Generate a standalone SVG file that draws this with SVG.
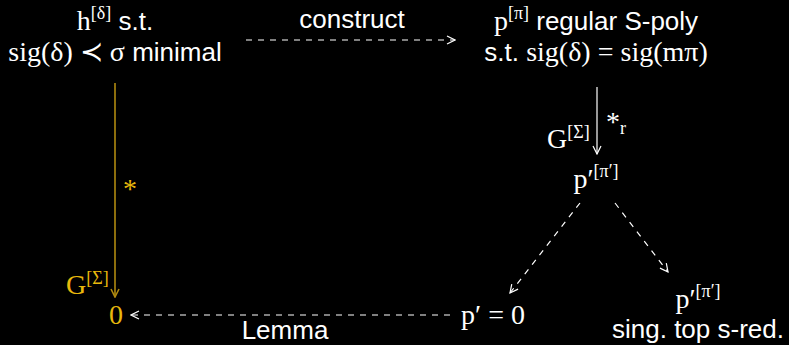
<svg xmlns="http://www.w3.org/2000/svg" width="789" height="345" viewBox="0 0 789 345">
<defs>
<style>
.s{font-family:"Liberation Sans",Arial,sans-serif;font-size:26px;fill:#fff}
.m{font-family:"Liberation Serif","DejaVu Serif",serif;font-size:28px;fill:#fff}
.y{fill:#e8b80c}
.sup{font-size:18px}
.ln{stroke:#fff;stroke-width:1.2;fill:none}
.dash{stroke-dasharray:6 6}
.yl{stroke:#b08a10;stroke-width:1.6;fill:none}
</style>
<marker id="ah" viewBox="0 0 10 10" refX="9" refY="5" markerWidth="10" markerHeight="10" markerUnits="userSpaceOnUse" orient="auto"><path d="M1,1 L9,5 L1,9" fill="none" stroke="#fff" stroke-width="1.2"/></marker>
<marker id="ahy" viewBox="0 0 10 10" refX="9" refY="5" markerWidth="10" markerHeight="10" markerUnits="userSpaceOnUse" orient="auto"><path d="M1,1 L9,5 L1,9" fill="none" stroke="#b08a10" stroke-width="1.6"/></marker>
</defs>
<rect width="789" height="345" fill="#000"/>
<g id="connectors">
<line class="ln dash" x1="246" y1="40" x2="455" y2="40" marker-end="url(#ah)"/>
<line class="ln" x1="597" y1="87" x2="597" y2="154" marker-end="url(#ah)"/>
<line class="yl" x1="115" y1="83" x2="115" y2="297" marker-end="url(#ahy)"/>
<line class="ln dash" x1="450" y1="315" x2="131" y2="315" marker-end="url(#ah)"/>
<line class="ln dash" x1="580" y1="203" x2="510" y2="293" marker-end="url(#ah)"/>
<line class="ln dash" x1="615" y1="203" x2="668" y2="272" marker-end="url(#ah)"/>
<text class="s" x="352" y="28" text-anchor="middle">construct</text>
<text class="m" x="606" y="131">*<tspan class="sup" dy="3">r</tspan></text>
<text class="m" x="547" y="148">G<tspan class="sup" dy="-10">[Σ]</tspan></text>
<text class="m y" x="123" y="198">*</text>
<text class="m y" x="66" y="294">G<tspan class="sup" dy="-10">[Σ]</tspan></text>
<text class="s" x="285" y="339" text-anchor="middle">Lemma</text>
</g>
<g id="node-h">
<text x="115" y="30" text-anchor="middle"><tspan class="m">h</tspan><tspan class="m sup" dy="-11">[δ]</tspan><tspan class="s" dy="11"> s.t.</tspan></text>
<text x="115" y="61" text-anchor="middle"><tspan class="m">sig(δ) ≺ σ</tspan><tspan class="s"> minimal</tspan></text>
</g>
<g id="node-p">
<text x="596" y="30" text-anchor="middle"><tspan class="m">p</tspan><tspan class="m sup" dy="-11">[π]</tspan><tspan class="s" dy="11"> regular S-poly</tspan></text>
<text x="596" y="61" text-anchor="middle"><tspan class="s">s.t. </tspan><tspan class="m">sig(δ) = sig(mπ)</tspan></text>
</g>
<g id="node-pprime">
<text class="m" x="596" y="188" text-anchor="middle">p′<tspan class="sup" dy="-11">[π′]</tspan></text>
</g>
<g id="node-zero">
<text class="m y" x="116" y="324" text-anchor="middle">0</text>
</g>
<g id="node-peq0">
<text class="m" x="493" y="324" text-anchor="middle">p′ = 0</text>
</g>
<g id="node-sing">
<text class="m" x="698" y="308" text-anchor="middle">p′<tspan class="sup" dy="-11">[π′]</tspan></text>
<text class="s" x="698" y="338" text-anchor="middle">sing. top s-red.</text>
</g>
</svg>
